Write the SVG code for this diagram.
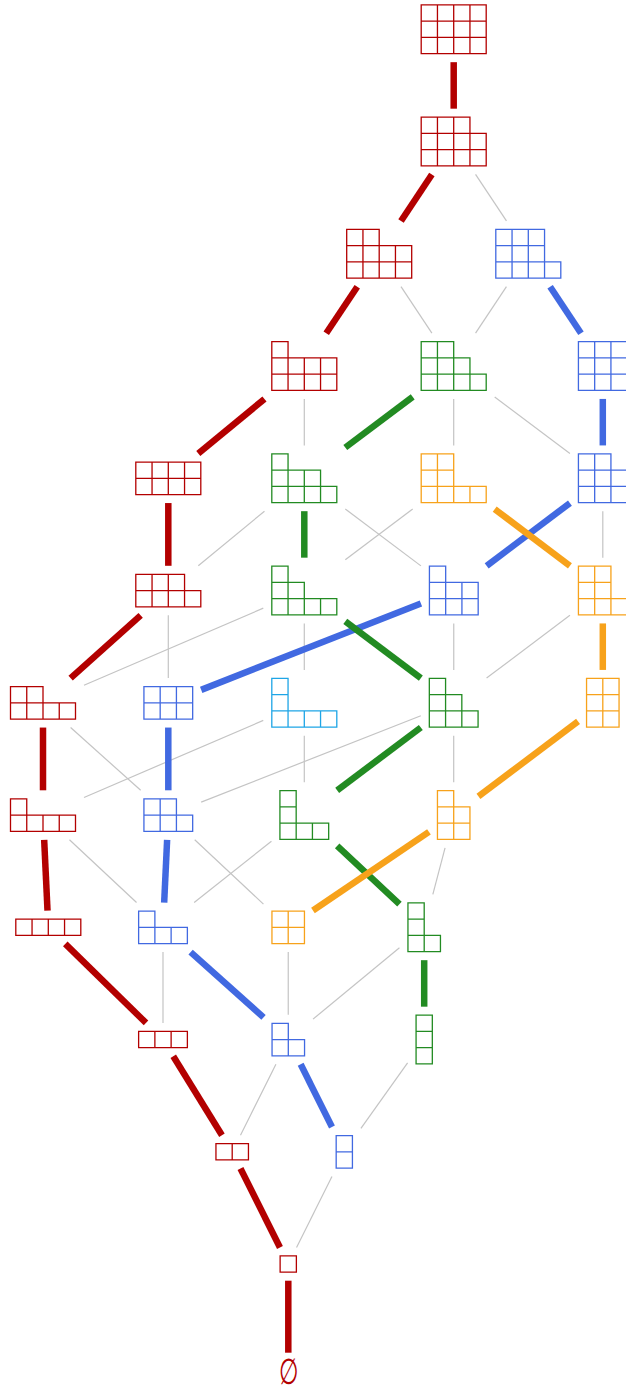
<svg xmlns="http://www.w3.org/2000/svg" width="626" height="1391" viewBox="0 0 626 1391">
<style>
.g{stroke:#c4c4c4;stroke-width:1.2}
.k{stroke-width:6.5;stroke-linecap:butt}
.c path{fill:none;stroke-width:1.3;vector-effect:non-scaling-stroke}
.red{stroke:#b30000}
.blue{stroke:#4169e1}
.green{stroke:#228b22}
.orange{stroke:#f7a21b}
.cyan{stroke:#1ea5e6}
</style>
<rect width="626" height="1391" fill="#fff"/>
<g id="connectors">
<g class="g">
<line x1="296.55" y1="1247.43" x2="331.94" y2="1176.55"/>
<line x1="240.51" y1="1135.18" x2="275.93" y2="1064.3"/>
<line x1="360.93" y1="1128.44" x2="407.58" y2="1062.91"/>
<line x1="163" y1="1022.93" x2="163" y2="952.05"/>
<line x1="288.25" y1="1014.8" x2="288.25" y2="952.05"/>
<line x1="313.05" y1="1019.11" x2="399.45" y2="947.74"/>
<line x1="136.54" y1="902.55" x2="69.46" y2="839.8"/>
<line x1="194.16" y1="902.55" x2="271.43" y2="841.17"/>
<line x1="263.45" y1="904.13" x2="194.74" y2="839.8"/>
<line x1="432.84" y1="894.43" x2="445.06" y2="847.93"/>
<line x1="84" y1="797.44" x2="263.3" y2="720.41"/>
<line x1="140.67" y1="790.3" x2="70.63" y2="727.55"/>
<line x1="201.18" y1="802.12" x2="420.83" y2="715.73"/>
<line x1="304.3" y1="782.18" x2="304.3" y2="735.68"/>
<line x1="453.7" y1="782.18" x2="453.7" y2="735.68"/>
<line x1="84" y1="685.19" x2="263.3" y2="608.16"/>
<line x1="304.3" y1="669.93" x2="304.3" y2="623.43"/>
<line x1="168.3" y1="678.05" x2="168.3" y2="615.3"/>
<line x1="453.75" y1="669.93" x2="453.75" y2="623.43"/>
<line x1="486.58" y1="678.05" x2="569.93" y2="615.3"/>
<line x1="198.29" y1="565.8" x2="264.47" y2="511.18"/>
<line x1="345.3" y1="559.75" x2="412.7" y2="509.1"/>
<line x1="420.93" y1="565.87" x2="345.3" y2="509.08"/>
<line x1="602.8" y1="557.68" x2="602.8" y2="511.18"/>
<line x1="304.3" y1="445.43" x2="304.3" y2="398.93"/>
<line x1="453.7" y1="445.43" x2="453.7" y2="398.93"/>
<line x1="569.93" y1="453.55" x2="494.7" y2="396.92"/>
<line x1="431.88" y1="333.18" x2="401.02" y2="286.68"/>
<line x1="475.55" y1="333.18" x2="506.45" y2="286.68"/>
<line x1="506.45" y1="220.93" x2="475.55" y2="174.43"/>
</g>
<g class="k red">
<line x1="288.3" y1="1352.7" x2="288.3" y2="1280.7"/>
<line x1="279.95" y1="1247.43" x2="240.5" y2="1168.43"/>
<line x1="221.95" y1="1135.18" x2="173.25" y2="1056.18"/>
<line x1="146.01" y1="1022.93" x2="65.29" y2="943.93"/>
<line x1="47.52" y1="910.68" x2="44.17" y2="839.8"/>
<line x1="43" y1="790.3" x2="43" y2="727.55"/>
<line x1="70.63" y1="678.05" x2="140.67" y2="615.3"/>
<line x1="168.3" y1="565.8" x2="168.3" y2="503.05"/>
<line x1="198.29" y1="453.55" x2="264.47" y2="398.93"/>
<line x1="326.24" y1="333.18" x2="357.26" y2="286.68"/>
<line x1="401.02" y1="220.93" x2="431.88" y2="174.43"/>
<line x1="453.7" y1="108.68" x2="453.7" y2="62.18"/>
</g>
<g class="k blue">
<line x1="331.95" y1="1127.05" x2="300.65" y2="1064.3"/>
<line x1="263.55" y1="1017.38" x2="190.63" y2="952.05"/>
<line x1="164.17" y1="902.55" x2="167.13" y2="839.8"/>
<line x1="168.3" y1="790.3" x2="168.3" y2="727.55"/>
<line x1="201.18" y1="689.88" x2="420.93" y2="603.47"/>
<line x1="486.67" y1="565.78" x2="569.93" y2="503.06"/>
<line x1="602.8" y1="445.43" x2="602.8" y2="398.93"/>
<line x1="580.98" y1="333.18" x2="550.12" y2="286.68"/>
</g>
<g class="k green">
<line x1="424.2" y1="1006.68" x2="424.2" y2="960.18"/>
<line x1="399.45" y1="904.13" x2="337.18" y2="845.83"/>
<line x1="337.18" y1="790.35" x2="420.83" y2="727.5"/>
<line x1="420.83" y1="678.1" x2="345.3" y2="621.35"/>
<line x1="304.3" y1="557.68" x2="304.3" y2="511.18"/>
<line x1="345.3" y1="447.5" x2="412.7" y2="396.85"/>
</g>
<g class="k orange">
<line x1="312.95" y1="910.51" x2="428.95" y2="831.84"/>
<line x1="478.45" y1="796.42" x2="578.05" y2="721.43"/>
<line x1="602.8" y1="669.93" x2="602.8" y2="623.43"/>
<line x1="569.93" y1="565.8" x2="494.7" y2="509.17"/>
</g>
</g>

<g id="n444" class="c red" transform="translate(421.2,4.925) scale(16.25)"><path d="M0 0h1v1h-1zm1 0h1v1h-1zm1 0h1v1h-1zm1 0h1v1h-1zM0 1h1v1h-1zm1 0h1v1h-1zm1 0h1v1h-1zm1 0h1v1h-1zM0 2h1v1h-1zm1 0h1v1h-1zm1 0h1v1h-1zm1 0h1v1h-1z"/></g>
<g id="n443" class="c red" transform="translate(421.2,117.175) scale(16.25)"><path d="M0 0h1v1h-1zm1 0h1v1h-1zm1 0h1v1h-1zM0 1h1v1h-1zm1 0h1v1h-1zm1 0h1v1h-1zm1 0h1v1h-1zM0 2h1v1h-1zm1 0h1v1h-1zm1 0h1v1h-1zm1 0h1v1h-1z"/></g>
<g id="n442" class="c red" transform="translate(346.7,229.425) scale(16.25)"><path d="M0 0h1v1h-1zm1 0h1v1h-1zM0 1h1v1h-1zm1 0h1v1h-1zm1 0h1v1h-1zm1 0h1v1h-1zM0 2h1v1h-1zm1 0h1v1h-1zm1 0h1v1h-1zm1 0h1v1h-1z"/></g>
<g id="n433" class="c blue" transform="translate(495.8,229.425) scale(16.25)"><path d="M0 0h1v1h-1zm1 0h1v1h-1zm1 0h1v1h-1zM0 1h1v1h-1zm1 0h1v1h-1zm1 0h1v1h-1zM0 2h1v1h-1zm1 0h1v1h-1zm1 0h1v1h-1zm1 0h1v1h-1z"/></g>
<g id="n441" class="c red" transform="translate(271.8,341.675) scale(16.25)"><path d="M0 0h1v1h-1zM0 1h1v1h-1zm1 0h1v1h-1zm1 0h1v1h-1zm1 0h1v1h-1zM0 2h1v1h-1zm1 0h1v1h-1zm1 0h1v1h-1zm1 0h1v1h-1z"/></g>
<g id="n432" class="c green" transform="translate(421.2,341.675) scale(16.25)"><path d="M0 0h1v1h-1zm1 0h1v1h-1zM0 1h1v1h-1zm1 0h1v1h-1zm1 0h1v1h-1zM0 2h1v1h-1zm1 0h1v1h-1zm1 0h1v1h-1zm1 0h1v1h-1z"/></g>
<g id="n333" class="c blue" transform="translate(578.425,341.675) scale(16.25)"><path d="M0 0h1v1h-1zm1 0h1v1h-1zm1 0h1v1h-1zM0 1h1v1h-1zm1 0h1v1h-1zm1 0h1v1h-1zM0 2h1v1h-1zm1 0h1v1h-1zm1 0h1v1h-1z"/></g>
<g id="n44" class="c red" transform="translate(135.8,462.05) scale(16.25)"><path d="M0 0h1v1h-1zm1 0h1v1h-1zm1 0h1v1h-1zm1 0h1v1h-1zM0 1h1v1h-1zm1 0h1v1h-1zm1 0h1v1h-1zm1 0h1v1h-1z"/></g>
<g id="n431" class="c green" transform="translate(271.8,453.925) scale(16.25)"><path d="M0 0h1v1h-1zM0 1h1v1h-1zm1 0h1v1h-1zm1 0h1v1h-1zM0 2h1v1h-1zm1 0h1v1h-1zm1 0h1v1h-1zm1 0h1v1h-1z"/></g>
<g id="n422" class="c orange" transform="translate(421.2,453.925) scale(16.25)"><path d="M0 0h1v1h-1zm1 0h1v1h-1zM0 1h1v1h-1zm1 0h1v1h-1zM0 2h1v1h-1zm1 0h1v1h-1zm1 0h1v1h-1zm1 0h1v1h-1z"/></g>
<g id="n332" class="c blue" transform="translate(578.425,453.925) scale(16.25)"><path d="M0 0h1v1h-1zm1 0h1v1h-1zM0 1h1v1h-1zm1 0h1v1h-1zm1 0h1v1h-1zM0 2h1v1h-1zm1 0h1v1h-1zm1 0h1v1h-1z"/></g>
<g id="n43" class="c red" transform="translate(135.8,574.3) scale(16.25)"><path d="M0 0h1v1h-1zm1 0h1v1h-1zm1 0h1v1h-1zM0 1h1v1h-1zm1 0h1v1h-1zm1 0h1v1h-1zm1 0h1v1h-1z"/></g>
<g id="n421" class="c green" transform="translate(271.8,566.175) scale(16.25)"><path d="M0 0h1v1h-1zM0 1h1v1h-1zm1 0h1v1h-1zM0 2h1v1h-1zm1 0h1v1h-1zm1 0h1v1h-1zm1 0h1v1h-1z"/></g>
<g id="n331" class="c blue" transform="translate(429.425,566.175) scale(16.25)"><path d="M0 0h1v1h-1zM0 1h1v1h-1zm1 0h1v1h-1zm1 0h1v1h-1zM0 2h1v1h-1zm1 0h1v1h-1zm1 0h1v1h-1z"/></g>
<g id="n322" class="c orange" transform="translate(578.425,566.175) scale(16.25)"><path d="M0 0h1v1h-1zm1 0h1v1h-1zM0 1h1v1h-1zm1 0h1v1h-1zM0 2h1v1h-1zm1 0h1v1h-1zm1 0h1v1h-1z"/></g>
<g id="n42" class="c red" transform="translate(10.5,686.55) scale(16.25)"><path d="M0 0h1v1h-1zm1 0h1v1h-1zM0 1h1v1h-1zm1 0h1v1h-1zm1 0h1v1h-1zm1 0h1v1h-1z"/></g>
<g id="n33" class="c blue" transform="translate(143.925,686.55) scale(16.25)"><path d="M0 0h1v1h-1zm1 0h1v1h-1zm1 0h1v1h-1zM0 1h1v1h-1zm1 0h1v1h-1zm1 0h1v1h-1z"/></g>
<g id="n411" class="c cyan" transform="translate(271.8,678.425) scale(16.25)"><path d="M0 0h1v1h-1zM0 1h1v1h-1zM0 2h1v1h-1zm1 0h1v1h-1zm1 0h1v1h-1zm1 0h1v1h-1z"/></g>
<g id="n321" class="c green" transform="translate(429.325,678.425) scale(16.25)"><path d="M0 0h1v1h-1zM0 1h1v1h-1zm1 0h1v1h-1zM0 2h1v1h-1zm1 0h1v1h-1zm1 0h1v1h-1z"/></g>
<g id="n222" class="c orange" transform="translate(586.55,678.425) scale(16.25)"><path d="M0 0h1v1h-1zm1 0h1v1h-1zM0 1h1v1h-1zm1 0h1v1h-1zM0 2h1v1h-1zm1 0h1v1h-1z"/></g>
<g id="n41" class="c red" transform="translate(10.5,798.8) scale(16.25)"><path d="M0 0h1v1h-1zM0 1h1v1h-1zm1 0h1v1h-1zm1 0h1v1h-1zm1 0h1v1h-1z"/></g>
<g id="n32" class="c blue" transform="translate(143.925,798.8) scale(16.25)"><path d="M0 0h1v1h-1zm1 0h1v1h-1zM0 1h1v1h-1zm1 0h1v1h-1zm1 0h1v1h-1z"/></g>
<g id="n311" class="c green" transform="translate(279.925,790.675) scale(16.25)"><path d="M0 0h1v1h-1zM0 1h1v1h-1zM0 2h1v1h-1zm1 0h1v1h-1zm1 0h1v1h-1z"/></g>
<g id="n221" class="c orange" transform="translate(437.45,790.675) scale(16.25)"><path d="M0 0h1v1h-1zM0 1h1v1h-1zm1 0h1v1h-1zM0 2h1v1h-1zm1 0h1v1h-1z"/></g>
<g id="n4" class="c red" transform="translate(15.8,919.175) scale(16.25)"><path d="M0 0h1v1h-1zm1 0h1v1h-1zm1 0h1v1h-1zm1 0h1v1h-1z"/></g>
<g id="n31" class="c blue" transform="translate(138.625,911.05) scale(16.25)"><path d="M0 0h1v1h-1zM0 1h1v1h-1zm1 0h1v1h-1zm1 0h1v1h-1z"/></g>
<g id="n22" class="c orange" transform="translate(271.95,911.05) scale(16.25)"><path d="M0 0h1v1h-1zm1 0h1v1h-1zM0 1h1v1h-1zm1 0h1v1h-1z"/></g>
<g id="n211" class="c green" transform="translate(407.95,902.925) scale(16.25)"><path d="M0 0h1v1h-1zM0 1h1v1h-1zM0 2h1v1h-1zm1 0h1v1h-1z"/></g>
<g id="n3" class="c red" transform="translate(138.625,1031.425) scale(16.25)"><path d="M0 0h1v1h-1zm1 0h1v1h-1zm1 0h1v1h-1z"/></g>
<g id="n21" class="c blue" transform="translate(272.05,1023.3) scale(16.25)"><path d="M0 0h1v1h-1zM0 1h1v1h-1zm1 0h1v1h-1z"/></g>
<g id="n111" class="c green" transform="translate(416.075,1015.175) scale(16.25)"><path d="M0 0h1v1h-1zM0 1h1v1h-1zM0 2h1v1h-1z"/></g>
<g id="n2" class="c red" transform="translate(215.95,1143.675) scale(16.25)"><path d="M0 0h1v1h-1zm1 0h1v1h-1z"/></g>
<g id="n11" class="c blue" transform="translate(336.175,1135.55) scale(16.25)"><path d="M0 0h1v1h-1zM0 1h1v1h-1z"/></g>
<g id="n1" class="c red" transform="translate(280.125,1255.925) scale(16.25)"><path d="M0 0h1v1h-1z"/></g>
<g id="n0"><text x="288.3" y="1384" font-family="Liberation Serif, DejaVu Serif, serif" font-size="36" fill="#b30000" text-anchor="middle" transform="translate(288.3,0) scale(0.62,1) translate(-288.3,0)">∅</text></g>
</svg>
